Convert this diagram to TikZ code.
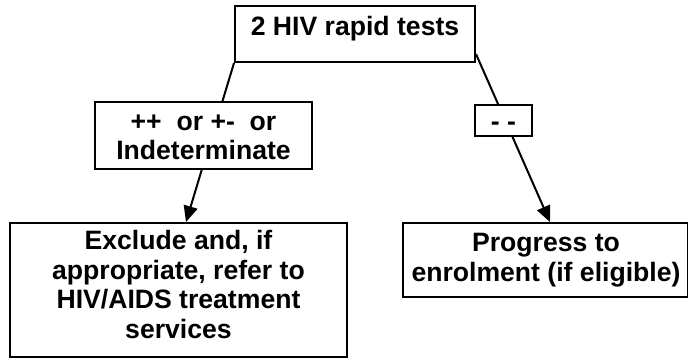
\documentclass[tikz,border=0pt]{standalone}
\usepackage{fontspec}
\setmainfont{Liberation Sans}
\usetikzlibrary{arrows.meta}
\begin{document}
\begin{tikzpicture}[x=1pt,y=-1pt,
  boxstyle/.style={draw=black, line width=2pt, inner sep=0pt, fill=white},
  txt/.style={font=\fontsize{26.6}{29.5}\selectfont\bfseries, align=center, inner sep=0pt},
  conn/.style={line width=2pt, -{Triangle[length=16pt,width=14pt]}}]
\useasboundingbox (0,0) rectangle (688,360);
% main boxes
\node[boxstyle, minimum width=240pt, minimum height=56pt] (top) at (355,34) {};
\node[boxstyle, minimum width=337pt, minimum height=134pt] (ex) at (178.5,290) {};
\node[boxstyle, minimum width=285pt, minimum height=74pt] (pr) at (545.5,260) {};
% connectors
\draw[conn] (top.south west) -- ([xshift=7.5pt]ex.north);
\draw[conn] ([yshift=9pt]top.south east) -- ([xshift=4.5pt]pr.north);
% label boxes on the connectors
\node[boxstyle, minimum width=217pt, minimum height=67pt] (l1) at (203.5,135.5) {};
\node[boxstyle, minimum width=57pt, minimum height=31pt] (l2) at (503.5,120.5) {};
% texts
\node[txt] (ttop) at (355,29.1) {\strut 2 HIV rapid tests};
\node[txt] (tl1) at (203.5,139.1) {\strut ++\ \ or +-\ \ or\\\strut Indeterminate};
\node[txt] (tl2) at (503.5,124.1) {\strut - -};
\node[txt] (tex) at (178.5,288.1) {\strut Exclude and, if\\\strut appropriate, refer to\\\strut HIV/AIDS treatment\\\strut services};
\node[txt] (tpr) at (546,260.8) {\strut Progress to\\\strut enrolment (if eligible)};
\end{tikzpicture}
\end{document}
